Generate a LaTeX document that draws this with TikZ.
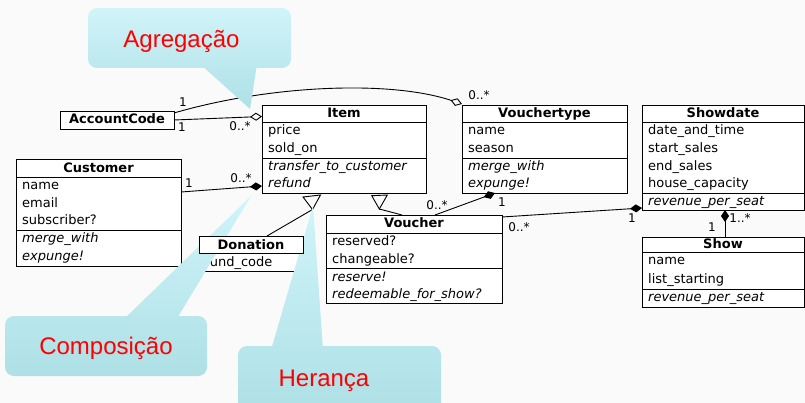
\documentclass[tikz,border=0pt]{standalone}
\usepackage{fontspec}
\setmainfont{DejaVu Sans}[ItalicFont={DejaVu Sans Oblique},BoldFont={DejaVu Sans Bold}]
\newfontfamily\calloutfont{Liberation Sans}
\usetikzlibrary{arrows.meta,calc}
\definecolor{bgcol}{RGB}{250,250,250}
\definecolor{ctop}{RGB}{208,244,249}
\definecolor{cbot}{RGB}{174,224,230}
\definecolor{callred}{RGB}{255,0,0}
\begin{document}
\begin{tikzpicture}[x=1pt,y=-1pt,
  cls/.style={draw=black, fill=white, line width=0.9pt, inner sep=0pt, outer sep=0pt, anchor=north west},
  sepline/.style={line width=0.9pt},
  ttl/.style={anchor=base, inner sep=0pt, font=\fontsize{13}{15}\selectfont\bfseries},
  att/.style={anchor=base west, inner sep=0pt, font=\fontsize{13}{15}\selectfont},
  ops/.style={anchor=base west, inner sep=0pt, font=\fontsize{13}{15}\selectfont\itshape},
  mult/.style={inner sep=0pt, font=\fontsize{12}{14}\selectfont},
  conn/.style={line width=0.9pt},
  agg/.style={conn, -{Diamond[open, length=12pt, width=8pt]}},
  comp/.style={conn, -{Diamond[length=12pt, width=8pt]}},
  inh/.style={line width=0.9pt, fill=bgcol, line join=miter},
  calltext/.style={anchor=base, inner sep=0pt, text=callred, font=\calloutfont\fontsize{24}{28}\selectfont},
]
\useasboundingbox (0,0) rectangle (805,403);
\clip (0,0) rectangle (805,403);
\fill[bgcol] (0,0) rectangle (805,403);

% ---------- AccountCode
\node[cls, minimum width=114pt, minimum height=18pt] (acct) at (60,111) {};
\node[ttl] (acct-t) at (117,124) {AccountCode};

% ---------- Item
\node[cls, minimum width=164pt, minimum height=88pt] (item) at (262,105) {};
\draw[sepline] (262,122) -- (426,122);
\draw[sepline] (262,158) -- (426,158);
\node[ttl] (item-t) at (344,118) {Item};
\node[att] (item-a1) at (268,135) {price};
\node[att] (item-a2) at (268,153) {sold\_on};
\node[ops] (item-o1) at (268,171) {transfer\_to\_customer};
\node[ops] (item-o2) at (268,188) {refund};

% ---------- Vouchertype
\node[cls, minimum width=165pt, minimum height=88pt] (vtype) at (462,105) {};
\draw[sepline] (462,122) -- (627,122);
\draw[sepline] (462,158) -- (627,158);
\node[ttl] (vtype-t) at (544.5,118) {Vouchertype};
\node[att] (vtype-a1) at (468,135) {name};
\node[att] (vtype-a2) at (468,153) {season};
\node[ops] (vtype-o1) at (468,171) {merge\_with};
\node[ops] (vtype-o2) at (468,188) {expunge!};

% ---------- Showdate
\node[cls, minimum width=162pt, minimum height=105pt] (showdate) at (642,105) {};
\draw[sepline] (642,122) -- (804,122);
\draw[sepline] (642,193) -- (804,193);
\node[ttl] (showdate-t) at (723,118) {Showdate};
\node[att] (showdate-a1) at (648,135) {date\_and\_time};
\node[att] (showdate-a2) at (648,153) {start\_sales};
\node[att] (showdate-a3) at (648,171) {end\_sales};
\node[att] (showdate-a4) at (648,188) {house\_capacity};
\node[ops] (showdate-o1) at (648,206) {revenue\_per\_seat};

% ---------- Customer
\node[cls, minimum width=165pt, minimum height=107pt] (customer) at (16,159) {};
\draw[sepline] (16,177.5) -- (181,177.5);
\draw[sepline] (16,230) -- (181,230);
\node[ttl] (customer-t) at (98.5,173) {Customer};
\node[att] (customer-a1) at (22,190) {name};
\node[att] (customer-a2) at (22,208) {email};
\node[att] (customer-a3) at (22,225) {subscriber?};
\node[ops] (customer-o1) at (22,243) {merge\_with};
\node[ops] (customer-o2) at (22,261) {expunge!};

% ---------- Donation
\node[cls, minimum width=104pt, minimum height=35pt] (donation) at (199,236) {};
\node[att] (donation-a1) at (205,266) {fund\_code};

% ---------- Voucher
\node[cls, minimum width=176pt, minimum height=88pt] (voucher) at (326,215) {};
\draw[sepline] (326,233) -- (502,233);
\draw[sepline] (326,268) -- (502,268);
\node[ttl] (voucher-t) at (414,228) {Voucher};
\node[att] (voucher-a1) at (332,245) {reserved?};
\node[att] (voucher-a2) at (332,263) {changeable?};
\node[ops] (voucher-o1) at (332,281) {reserve!};
\node[ops] (voucher-o2) at (332,298) {redeemable\_for\_show?};

% ---------- Show
\node[cls, minimum width=162pt, minimum height=70pt] (show) at (642,237) {};
\draw[sepline] (642,252.5) -- (804,252.5);
\draw[sepline] (642,289) -- (804,289);
\node[ttl] (show-t) at (723,248) {Show};
\node[att] (show-a1) at (648,265) {name};
\node[att] (show-a2) at (648,283) {list\_starting};
\node[ops] (show-o1) at (648,301) {revenue\_per\_seat};

% ---------- connectors
% AccountCode - Item (aggregation)
\draw[agg] (acct.east) -- ($(item.north west)+(0,11.5)$);
\node[mult] (m1a) at (182,127) {1};
\node[mult] (m1b) at (240,126) {0..*};

% AccountCode - Vouchertype (aggregation, curved)
\draw[agg] ($(acct.north east)+(0,2)$) .. controls (270,85) and (390,80) .. ($(vtype.north west)+(0,-1)$);
\node[mult] (m2a) at (183,102) {1};
\node[mult] (m2b) at (479,95) {0..*};

% Customer - Item (composition)
\draw[comp] ($(customer.north east)+(0,33)$) -- ($(item.north west)+(0,81)$);
\node[mult] (m3a) at (189,183) {1};
\node[mult] (m3b) at (241,178) {0..*};

% Donation - Item (inheritance)
\coordinate (t1) at (312.5,209.5);
\draw[inh] (303,197) -- (320.5,195) -- (t1) -- cycle;
\draw[conn] ($(donation.north west)+(68,0)$) -- (t1);

% Voucher - Item (inheritance)
\coordinate (t2) at (379.3,209);
\draw[inh] (371.7,195.7) -- (387.3,195) -- (t2) -- cycle;
\draw[conn] (t2) -- ($(voucher.north west)+(76,0)$);

% Voucher - Vouchertype (composition)
\draw[comp] ($(voucher.north west)+(109,0)$) -- ($(vtype.south west)+(33,0)$);
\node[mult] (m4a) at (437,205) {0..*};
\node[mult] (m4b) at (502,202) {1};

% Voucher - Showdate (composition)
\draw[comp] ($(voucher.north east)+(0,2)$) -- ($(showdate.north west)+(0,103)$);
\node[mult] (m5a) at (519,227) {0..*};
\node[mult] (m5b) at (632,218) {1};

% Show - Showdate (composition)
\draw[comp] ($(show.north west)+(83,0)$) -- ($(showdate.south west)+(83,0)$);
\node[mult] (m6a) at (740,218) {1..*};
\node[mult] (m6b) at (712,227) {1};

% ---------- callouts
% Agregacao
\shade[top color=ctop!41!cbot, bottom color=cbot] (200,64) -- (250,109) -- (257,64) -- cycle;
\shade[top color=ctop, bottom color=ctop!41!cbot, rounded corners=9pt] (88,8) rectangle (291,68);
\node[calltext] (agg-t) at (181.5,48) {Agregação};

% Composicao
\shade[top color=ctop, bottom color=ctop!33!cbot] (251,196) -- (123,320) -- (176,320) -- cycle;
\shade[top color=ctop!33!cbot, bottom color=cbot, rounded corners=9pt] (5,316) rectangle (207,376);
\node[calltext] (comp-t) at (106,354) {Composição};

% Heranca
\shade[top color=ctop, bottom color=ctop!30!cbot] (313,206) -- (271,350) -- (323,350) -- cycle;
\shade[top color=ctop!30!cbot, bottom color=cbot, rounded corners=9pt] (238,346) rectangle (441,414);
\node[calltext] (her-t) at (324,386) {Herança};

% Donation title compartment (drawn over the callout pointer)
\node[cls, minimum width=104pt, minimum height=17pt] (donation-title) at (199,236) {};
\node[ttl] (donation-t) at (251,249) {Donation};
\end{tikzpicture}
\end{document}
